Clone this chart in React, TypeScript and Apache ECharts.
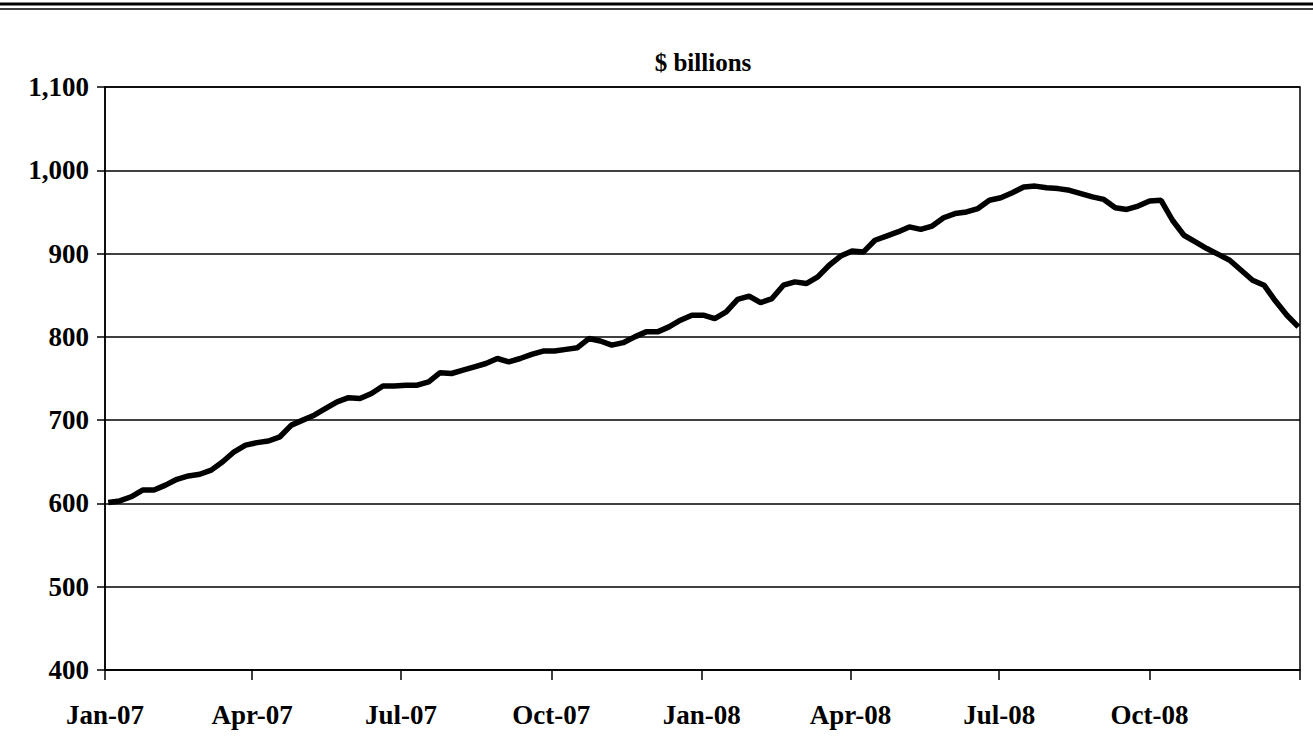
import React, { useEffect, useRef } from "react";
import * as echarts from "echarts";

// Weekly observations, first week ending 2007-01-03
const startDate = [2007, 0, 3];
const weeklyValues = [
  601, 603, 608, 616, 616, 622, 629, 633, 635, 640,
  650, 662, 670, 673, 675, 680, 694, 700, 706, 714,
  722, 727, 726, 732, 741, 741, 742, 742, 746, 757,
  756, 760, 764, 768, 774, 770, 774, 779, 783, 783,
  785, 787, 798, 795, 790, 793, 800, 806, 806, 812,
  820, 826, 826, 822, 830, 845, 849, 841, 846, 862,
  866, 864, 872, 886, 897, 903, 902, 916, 921, 926,
  932, 929, 933, 943, 948, 950, 954, 964, 967, 973,
  980, 981, 979, 978, 976, 972, 968, 965, 955, 953,
  957, 963, 964, 940, 922, 914, 906, 899, 892, 880,
  868, 862, 843, 826, 812,
];
const quarterTicks = [
  [2007, 0], [2007, 3], [2007, 6], [2007, 9],
  [2008, 0], [2008, 3], [2008, 6], [2008, 9], [2009, 0],
];
const quarterLabels = quarterTicks.slice(0, 8);
const monthNames = ["Jan", "Feb", "Mar", "Apr", "May", "Jun", "Jul", "Aug", "Sep", "Oct", "Nov", "Dec"];
const yTicks = { min: 400, max: 1100, interval: 100 };
const titleText = "$ billions";

const FONT = "Liberation Serif";

export default function App() {
  const ref = useRef<HTMLDivElement>(null);
  useEffect(() => {
    if (!ref.current) return;
    const chart = echarts.init(ref.current, null, { renderer: "svg" });
    const data = weeklyValues.map((v, i) => {
      const d = new Date(startDate[0], startDate[1], startDate[2] + 7 * i);
      return [d.getTime(), v];
    });
    const tickTs = quarterTicks.map(([y, m]) => new Date(y, m, 1).getTime());
    const labelTs = quarterLabels.map(([y, m]) => new Date(y, m, 1).getTime());
    chart.setOption({
      animation: false,
      backgroundColor: "#fff",
      graphic: [
        { type: "line", shape: { x1: 0, y1: 4, x2: 1313, y2: 4 }, style: { stroke: "#000", lineWidth: 3 } },
        { type: "line", shape: { x1: 0, y1: 9, x2: 1313, y2: 9 }, style: { stroke: "#000", lineWidth: 1.5 } },
        {
          type: "text",
          x: 703,
          y: 62,
          style: {
            text: titleText,
            font: "bold 25px 'Liberation Serif', serif",
            fill: "#000",
            textAlign: "center",
            textVerticalAlign: "middle",
          },
        },
      ],
      grid: {
        left: 105,
        right: 13,
        top: 87,
        bottom: 71,
        show: true,
        borderColor: "#000",
        borderWidth: 1.5,
      },
      xAxis: {
        type: "value",
        min: tickTs[0],
        max: tickTs[tickTs.length - 1],
        axisLine: { lineStyle: { color: "#000", width: 1.5 } },
        axisTick: { show: true, length: 10, customValues: tickTs, lineStyle: { color: "#000", width: 1.5 } },
        axisLabel: {
          customValues: labelTs,
          margin: 31,
          fontFamily: FONT,
          fontWeight: "bold",
          fontSize: 27,
          color: "#000",
          formatter: (val: number) => {
            const d = new Date(val);
            return monthNames[d.getMonth()] + "-" + String(d.getFullYear()).slice(2);
          },
        },
        splitLine: { show: false },
      },
      yAxis: {
        type: "value",
        min: yTicks.min,
        max: yTicks.max,
        interval: yTicks.interval,
        axisLine: { show: true, lineStyle: { color: "#000", width: 1.5 } },
        axisTick: { show: true, length: 8, lineStyle: { color: "#000", width: 1.5 } },
        axisLabel: {
          margin: 16,
          fontFamily: FONT,
          fontWeight: "bold",
          fontSize: 27,
          color: "#000",
          formatter: (v: number) => v.toLocaleString("en-US"),
        },
        splitLine: { show: true, lineStyle: { color: "#000", width: 1.5 } },
      },
      series: [
        {
          type: "line",
          data,
          showSymbol: false,
          symbol: "none",
          lineStyle: { color: "#000", width: 5.5 },
          clip: false,
        },
      ],
    });
    return () => chart.dispose();
  }, []);
  return <div ref={ref} style={{ width: 1313, height: 741, position: "absolute", left: 0, top: 0 }} />;
}
